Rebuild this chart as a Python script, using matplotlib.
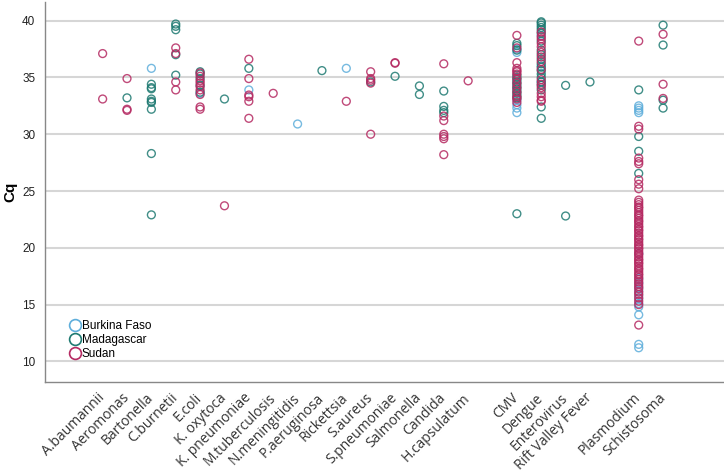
import matplotlib
matplotlib.use("Agg")
import matplotlib.pyplot as plt
from matplotlib.lines import Line2D

categories = ["A.baumannii", "Aeromonas", "Bartonella", "C.burnetii", "E.coli",
              "K. oxytoca", "K. pneumoniae", "M.tuberculosis", "N.meningitidis",
              "P.aeruginosa", "Rickettsia", "S.aureus", "S.pneumoniae", "Salmonella",
              "Candida", "H.capsulatum", "", "CMV", "Dengue", "Enterovirus",
              "Rift Valley Fever", "", "Plasmodium", "Schistosoma"]

countries = ["Burkina Faso", "Madagascar", "Sudan"]

burkina = {
    "Bartonella": [35.8],
    "E.coli": [33.6],
    "K. pneumoniae": [33.9],
    "N.meningitidis": [30.9],
    "Rickettsia": [35.8],
    "CMV": [37.5, 37.2, 33.0, 32.6, 32.3, 31.9],
    "Dengue": [38.7, 36.0, 34.6],
    "Plasmodium": [32.5, 32.3, 32.1, 31.9, 19.5, 17.3, 16.9, 16.5, 16.2, 15.8,
                   15.5, 15.1, 14.8, 14.1, 11.5, 11.2],
}

madagascar = {
    "Aeromonas": [33.2],
    "Bartonella": [34.4, 34.1, 34.0, 33.1, 32.9, 32.8, 32.2, 28.3, 22.9],
    "C.burnetii": [39.7, 39.5, 39.2, 37.0, 35.2],
    "E.coli": [35.5, 35.3, 34.9, 34.3, 33.7],
    "K. oxytoca": [33.1],
    "K. pneumoniae": [35.8],
    "P.aeruginosa": [35.6],
    "S.aureus": [34.6],
    "S.pneumoniae": [35.1],
    "Salmonella": [34.25, 33.5],
    "Candida": [33.8, 32.45, 32.1, 31.9],
    "CMV": [38.0, 37.8, 37.4, 35.2, 35.0, 34.8, 34.6, 34.4, 34.2, 34.0, 33.8,
            33.6, 33.4, 33.2, 23.0],
    "Dengue": [39.9, 39.8, 39.6, 39.4, 39.2, 38.9, 38.2, 37.4, 37.0, 36.6, 36.2,
               35.9, 35.6, 35.3, 35.0, 34.6, 34.3, 33.9, 32.4, 31.4],
    "Enterovirus": [34.3, 22.8],
    "Rift Valley Fever": [34.6],
    "Plasmodium": [33.9, 29.8, 28.5, 26.55],
    "Schistosoma": [39.6, 37.85, 33.0, 32.3],
}

sudan = {
    "A.baumannii": [37.1, 33.1],
    "Aeromonas": [34.9, 32.2, 32.1],
    "C.burnetii": [37.6, 37.1, 34.6, 33.9],
    "E.coli": [35.4, 35.1, 34.7, 34.5, 34.2, 33.9, 33.5, 32.4, 32.2],
    "K. oxytoca": [23.7],
    "K. pneumoniae": [36.6, 34.9, 33.45, 33.3, 32.9, 31.4],
    "M.tuberculosis": [33.6],
    "Rickettsia": [32.9],
    "S.aureus": [35.5, 34.9, 34.75, 34.5, 30.0],
    "S.pneumoniae": [36.3, 36.25],
    "Candida": [36.2, 31.6, 31.2, 30.0, 29.8, 29.6, 28.2],
    "H.capsulatum": [34.7],
    "CMV": [38.7, 37.6, 36.3, 35.8, 35.6, 35.5, 35.3, 34.9, 34.5, 34.1, 33.7,
            33.3, 33.1, 32.8],
    "Dengue": [39.0, 38.6, 38.4, 38.0, 37.7, 37.2, 36.8, 36.4, 35.7, 34.8, 34.4,
               34.1, 33.6, 33.3, 33.0, 32.9],
    "Plasmodium": [38.2, 30.7, 30.45, 27.9, 27.6, 27.4, 26.0, 25.6, 25.2,
                   24.2, 24.0, 23.8, 23.6, 23.5, 23.3, 23.1, 22.9, 22.8, 22.6,
                   22.4, 22.3, 22.1, 21.9, 21.8, 21.6, 21.5, 21.3, 21.1, 21.0,
                   20.8, 20.7, 20.5, 20.3, 20.2, 20.0, 19.9, 19.7, 19.5, 19.4,
                   19.2, 19.0, 18.9, 18.7, 18.6, 18.4, 18.2, 18.1, 17.9, 17.7,
                   17.6, 17.4, 17.2, 17.0, 16.8, 16.6, 16.4, 16.1, 15.9, 15.6,
                   15.3, 15.0, 13.2],
    "Schistosoma": [38.8, 34.4, 33.15],
}

colors = {"Burkina Faso": "#5eaedb", "Madagascar": "#1f7a72", "Sudan": "#b52a62"}
data = {"Burkina Faso": burkina, "Madagascar": madagascar, "Sudan": sudan}

fig = plt.figure(figsize=(7.24, 4.72), dpi=100)
ax = fig.add_axes([0.062, 0.191, 0.938, 0.805])

for c in countries:
    xs, ys = [], []
    for cat, vals in data[c].items():
        xs += [categories.index(cat)] * len(vals)
        ys += vals
    ax.scatter(xs, ys, s=32, facecolors="none", edgecolors=colors[c],
               linewidths=1.0, alpha=0.85, zorder=3)

ax.set_xlim(-2.37, 25.5)
ax.set_ylim(8.2, 41.65)
ax.set_yticks([10, 15, 20, 25, 30, 35, 40])
ax.yaxis.grid(True, color="#d6d6d6", linewidth=1.5, zorder=0)
ax.set_axisbelow(True)

ax.set_xticks(range(len(categories)))
ax.set_xticklabels(categories, rotation=45, ha="right", va="center",
                   rotation_mode="anchor", fontsize=10, family="Open Sans",
                   color="#333333")
ax.tick_params(axis="x", length=0, pad=10)
ax.tick_params(axis="y", length=0, pad=7, labelsize=8.5, labelcolor="#222222")
for lab in ax.get_yticklabels():
    lab.set_family("Liberation Sans")

for s in ["top", "right"]:
    ax.spines[s].set_visible(False)
for s in ["left", "bottom"]:
    ax.spines[s].set_color("#888888")
    ax.spines[s].set_linewidth(1.0)

ax.set_ylabel("Cq", fontsize=11, fontweight="bold", family="Liberation Sans")
ax.yaxis.set_label_coords(-0.041, 0.5)

handles = [Line2D([], [], marker="o", linestyle="none", markersize=8.5,
                  markerfacecolor="none", markeredgecolor=colors[c],
                  markeredgewidth=1.2) for c in countries]
leg = ax.legend(handles, countries, loc="lower left", bbox_to_anchor=(0.028, 0.045),
                frameon=False, handletextpad=0.1, labelspacing=0.18,
                borderaxespad=0, handlelength=1.0,
                prop={"family": "Liberation Sans", "size": 8.5})

fig.savefig("out.png", dpi=100)
